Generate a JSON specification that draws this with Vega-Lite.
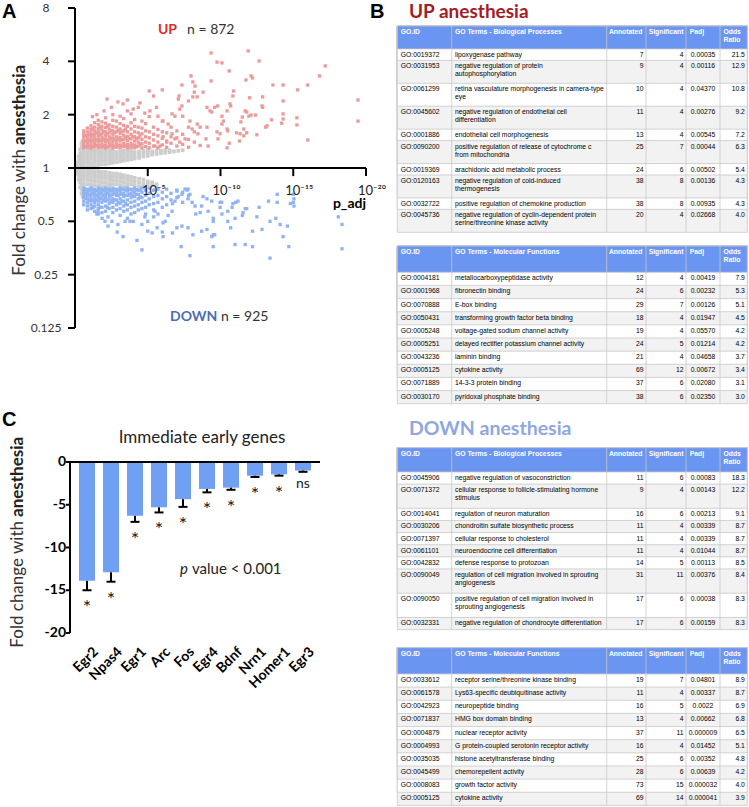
{
"$schema":"https://vega.github.io/schema/vega-lite/v6.json",
"width":749,"height":807,"autosize":{"type":"none"},"padding":0,
"config":{"view":{"stroke":null},"font":"Lato",
"style":{"t":{"font":"Liberation Sans","fontSize":6.8,"baseline":"top","dy":3,"fill":"#333333","lineHeight":8}}},
"resolve":{"scale":{"x":"independent","y":"independent"}},
"datasets":{
"aaxis":[
{"k":"y","p":0,"f":0.125},{"k":"y","p":0,"f":8},
{"k":"t1","p":-0.48,"f":0.125},{"k":"t1","p":0,"f":0.125},
{"k":"t2","p":-0.48,"f":0.25},{"k":"t2","p":0,"f":0.25},
{"k":"t3","p":-0.48,"f":0.5},{"k":"t3","p":0,"f":0.5},
{"k":"t4","p":-0.48,"f":1},{"k":"t4","p":0,"f":1},
{"k":"t5","p":-0.48,"f":2},{"k":"t5","p":0,"f":2},
{"k":"t6","p":-0.48,"f":4},{"k":"t6","p":0,"f":4},
{"k":"t7","p":-0.48,"f":8},{"k":"t7","p":0,"f":8},
{"k":"x1","p":5,"f":1},{"k":"x1","p":5,"f":0.9},
{"k":"x2","p":10,"f":1},{"k":"x2","p":10,"f":0.9},
{"k":"x3","p":15,"f":1},{"k":"x3","p":15,"f":0.9},
{"k":"x4","p":20,"f":1},{"k":"x4","p":20,"f":0.9}
],
"ayt":[{"v":0.125,"l":"0.125"},{"v":0.25,"l":"0.25"},{"v":0.5,"l":"0.5"},{"v":1,"l":"1"},{"v":2,"l":"2"},{"v":4,"l":"4"},{"v":8,"l":"8"}],
"axt":[{"v":5,"l":"10⁻⁵"},{"v":10,"l":"10⁻¹⁰"},{"v":15,"l":"10⁻¹⁵"},{"v":20,"l":"10⁻²⁰"}],
"cyt":[{"v":0,"l":"0"},{"v":-5,"l":"-5"},{"v":-10,"l":"-10"},{"v":-15,"l":"-15"},{"v":-20,"l":"-20"}],
"ns":[
{"p":0.05,"f":0.99},{"p":0.05,"f":1.01},{"p":0.15,"f":0.93},{"p":0.15,"f":0.97},{"p":0.15,"f":1.03},{"p":0.15,"f":1.07},{"p":0.25,"f":0.86},{"p":0.25,"f":0.91},{"p":0.25,"f":0.96},{"p":0.25,"f":1.04},{"p":0.25,"f":1.1},{"p":0.25,"f":1.16},{"p":0.35,"f":0.78},{"p":0.35,"f":0.83},{"p":0.35,"f":0.88},{"p":0.35,"f":0.94},{"p":0.35,"f":1.0},{"p":0.35,"f":1.06},{"p":0.35,"f":1.13},{"p":0.35,"f":1.2},{"p":0.35,"f":1.27},{"p":0.45,"f":0.72},{"p":0.45,"f":0.76},{"p":0.45,"f":0.81},{"p":0.45,"f":0.86},{"p":0.45,"f":0.92},{"p":0.45,"f":0.98},{"p":0.45,"f":1.04},{"p":0.45,"f":1.1},{"p":0.45,"f":1.17},{"p":0.45,"f":1.24},{"p":0.45,"f":1.31},{"p":0.45,"f":1.38},{"p":0.52,"f":0.69},{"p":0.52,"f":0.74},{"p":0.52,"f":1.34},{"p":0.52,"f":1.42},
{"p":0.6,"f":1.02},{"p":0.6,"f":1.07},{"p":0.6,"f":1.12},{"p":0.6,"f":1.17},{"p":0.6,"f":1.22},{"p":0.6,"f":1.26},
{"p":0.85,"f":1.01},{"p":0.85,"f":1.06},{"p":0.85,"f":1.11},{"p":0.85,"f":1.16},{"p":0.85,"f":1.21},{"p":0.85,"f":1.26},
{"p":1.1,"f":1.03},{"p":1.1,"f":1.08},{"p":1.1,"f":1.13},{"p":1.1,"f":1.18},{"p":1.1,"f":1.23},{"p":1.1,"f":1.27},
{"p":1.35,"f":1.02},{"p":1.35,"f":1.07},{"p":1.35,"f":1.12},{"p":1.35,"f":1.17},{"p":1.35,"f":1.22},{"p":1.35,"f":1.26},
{"p":1.6,"f":1.04},{"p":1.6,"f":1.09},{"p":1.6,"f":1.14},{"p":1.6,"f":1.19},{"p":1.6,"f":1.24},
{"p":1.85,"f":1.05},{"p":1.85,"f":1.1},{"p":1.85,"f":1.15},{"p":1.85,"f":1.2},{"p":1.85,"f":1.25},
{"p":2.1,"f":1.05},{"p":2.1,"f":1.1},{"p":2.1,"f":1.15},{"p":2.1,"f":1.2},{"p":2.1,"f":1.25},
{"p":2.35,"f":1.06},{"p":2.35,"f":1.11},{"p":2.35,"f":1.16},{"p":2.35,"f":1.21},{"p":2.35,"f":1.26},
{"p":2.6,"f":1.07},{"p":2.6,"f":1.12},{"p":2.6,"f":1.17},{"p":2.6,"f":1.22},{"p":2.6,"f":1.26},
{"p":2.85,"f":1.08},{"p":2.85,"f":1.13},{"p":2.85,"f":1.18},{"p":2.85,"f":1.23},
{"p":3.1,"f":1.09},{"p":3.1,"f":1.14},{"p":3.1,"f":1.19},{"p":3.1,"f":1.24},
{"p":3.35,"f":1.1},{"p":3.35,"f":1.15},{"p":3.35,"f":1.2},{"p":3.35,"f":1.25},
{"p":3.6,"f":1.11},{"p":3.6,"f":1.16},{"p":3.6,"f":1.21},{"p":3.6,"f":1.26},
{"p":3.85,"f":1.12},{"p":3.85,"f":1.17},{"p":3.85,"f":1.22},{"p":3.85,"f":1.26},
{"p":4.1,"f":1.13},{"p":4.1,"f":1.18},{"p":4.1,"f":1.23},
{"p":4.4,"f":1.14},{"p":4.4,"f":1.19},{"p":4.4,"f":1.24},
{"p":4.7,"f":1.16},{"p":4.7,"f":1.21},{"p":4.7,"f":1.25},
{"p":5.0,"f":1.17},{"p":5.0,"f":1.22},{"p":5.0,"f":1.26},
{"p":5.3,"f":1.19},{"p":5.3,"f":1.24},{"p":5.6,"f":1.2},{"p":5.6,"f":1.25},{"p":5.9,"f":1.21},{"p":5.9,"f":1.25},{"p":6.2,"f":1.22},{"p":6.2,"f":1.26},{"p":6.5,"f":1.23},{"p":6.5,"f":1.26},{"p":6.8,"f":1.24},{"p":7.1,"f":1.25},{"p":7.4,"f":1.26},
{"p":0.6,"f":0.98},{"p":0.6,"f":0.94},{"p":0.6,"f":0.9},{"p":0.6,"f":0.86},{"p":0.6,"f":0.82},{"p":0.6,"f":0.79},
{"p":0.85,"f":0.97},{"p":0.85,"f":0.93},{"p":0.85,"f":0.89},{"p":0.85,"f":0.85},{"p":0.85,"f":0.81},
{"p":1.1,"f":0.97},{"p":1.1,"f":0.93},{"p":1.1,"f":0.89},{"p":1.1,"f":0.85},{"p":1.1,"f":0.81},{"p":1.1,"f":0.79},
{"p":1.35,"f":0.96},{"p":1.35,"f":0.92},{"p":1.35,"f":0.88},{"p":1.35,"f":0.84},{"p":1.35,"f":0.8},
{"p":1.6,"f":0.96},{"p":1.6,"f":0.92},{"p":1.6,"f":0.88},{"p":1.6,"f":0.84},{"p":1.6,"f":0.8},
{"p":1.85,"f":0.95},{"p":1.85,"f":0.91},{"p":1.85,"f":0.87},{"p":1.85,"f":0.83},{"p":1.85,"f":0.79},
{"p":2.1,"f":0.95},{"p":2.1,"f":0.91},{"p":2.1,"f":0.87},{"p":2.1,"f":0.83},{"p":2.1,"f":0.79},
{"p":2.35,"f":0.94},{"p":2.35,"f":0.9},{"p":2.35,"f":0.86},{"p":2.35,"f":0.82},{"p":2.35,"f":0.79},
{"p":2.6,"f":0.93},{"p":2.6,"f":0.89},{"p":2.6,"f":0.85},{"p":2.6,"f":0.81},
{"p":2.85,"f":0.93},{"p":2.85,"f":0.89},{"p":2.85,"f":0.85},{"p":2.85,"f":0.81},
{"p":3.1,"f":0.92},{"p":3.1,"f":0.88},{"p":3.1,"f":0.84},{"p":3.1,"f":0.8},
{"p":3.35,"f":0.91},{"p":3.35,"f":0.87},{"p":3.35,"f":0.83},{"p":3.35,"f":0.79},
{"p":3.6,"f":0.9},{"p":3.6,"f":0.86},{"p":3.6,"f":0.82},{"p":3.6,"f":0.79},
{"p":3.85,"f":0.89},{"p":3.85,"f":0.85},{"p":3.85,"f":0.81},
{"p":4.1,"f":0.88},{"p":4.1,"f":0.84},{"p":4.1,"f":0.8},
{"p":4.4,"f":0.87},{"p":4.4,"f":0.83},{"p":4.4,"f":0.79},
{"p":4.7,"f":0.86},{"p":4.7,"f":0.82},{"p":4.7,"f":0.79},
{"p":5.0,"f":0.84},{"p":5.0,"f":0.81},{"p":5.3,"f":0.83},{"p":5.3,"f":0.8},{"p":5.6,"f":0.81},{"p":5.6,"f":0.79}
],
"up":[
{"p":0.6,"f":1.3},{"p":0.6,"f":1.34},{"p":0.6,"f":1.39},{"p":0.6,"f":1.44},{"p":0.6,"f":1.5},{"p":0.6,"f":1.56},{"p":0.6,"f":1.62},
{"p":0.72,"f":1.32},{"p":0.72,"f":1.42},{"p":0.72,"f":1.52},
{"p":0.85,"f":1.31},{"p":0.85,"f":1.36},{"p":0.85,"f":1.41},{"p":0.85,"f":1.47},{"p":0.85,"f":1.53},{"p":0.85,"f":1.6},{"p":0.85,"f":1.68},
{"p":0.97,"f":1.33},{"p":0.97,"f":1.43},{"p":0.97,"f":1.55},
{"p":1.1,"f":1.3},{"p":1.1,"f":1.35},{"p":1.1,"f":1.4},{"p":1.1,"f":1.45},{"p":1.1,"f":1.51},{"p":1.1,"f":1.58},{"p":1.1,"f":1.65},{"p":1.1,"f":1.73},
{"p":1.22,"f":1.32},{"p":1.22,"f":1.43},{"p":1.22,"f":1.53},{"p":1.22,"f":1.66},
{"p":1.35,"f":1.32},{"p":1.35,"f":1.37},{"p":1.35,"f":1.42},{"p":1.35,"f":1.48},{"p":1.35,"f":1.55},{"p":1.35,"f":1.62},{"p":1.35,"f":1.7},{"p":1.35,"f":1.8},
{"p":1.47,"f":1.34},{"p":1.47,"f":1.44},{"p":1.47,"f":1.58},
{"p":1.6,"f":1.3},{"p":1.6,"f":1.35},{"p":1.6,"f":1.41},{"p":1.6,"f":1.46},{"p":1.6,"f":1.52},{"p":1.6,"f":1.6},{"p":1.6,"f":1.67},{"p":1.6,"f":1.76},{"p":1.6,"f":1.86},
{"p":1.72,"f":1.33},{"p":1.72,"f":1.43},{"p":1.72,"f":1.55},{"p":1.72,"f":1.7},
{"p":1.85,"f":1.31},{"p":1.85,"f":1.36},{"p":1.85,"f":1.42},{"p":1.85,"f":1.49},{"p":1.85,"f":1.56},{"p":1.85,"f":1.64},{"p":1.85,"f":1.72},{"p":1.85,"f":1.82},
{"p":1.97,"f":1.33},{"p":1.97,"f":1.45},{"p":1.97,"f":1.6},
{"p":2.1,"f":1.3},{"p":2.1,"f":1.34},{"p":2.1,"f":1.4},{"p":2.1,"f":1.46},{"p":2.1,"f":1.53},{"p":2.1,"f":1.6},{"p":2.1,"f":1.69},{"p":2.1,"f":1.79},{"p":2.1,"f":1.92},
{"p":2.22,"f":1.32},{"p":2.22,"f":1.43},{"p":2.22,"f":1.56},{"p":2.22,"f":1.72},
{"p":2.35,"f":1.32},{"p":2.35,"f":1.38},{"p":2.35,"f":1.44},{"p":2.35,"f":1.5},{"p":2.35,"f":1.58},{"p":2.35,"f":1.66},{"p":2.35,"f":1.75},
{"p":2.47,"f":1.35},{"p":2.47,"f":1.47},{"p":2.47,"f":1.62},
{"p":2.6,"f":1.3},{"p":2.6,"f":1.35},{"p":2.6,"f":1.41},{"p":2.6,"f":1.48},{"p":2.6,"f":1.55},{"p":2.6,"f":1.63},{"p":2.6,"f":1.72},{"p":2.6,"f":1.86},{"p":2.6,"f":2.0},
{"p":2.72,"f":1.33},{"p":2.72,"f":1.45},{"p":2.72,"f":1.58},
{"p":2.85,"f":1.31},{"p":2.85,"f":1.37},{"p":2.85,"f":1.43},{"p":2.85,"f":1.5},{"p":2.85,"f":1.6},{"p":2.85,"f":1.7},{"p":2.85,"f":1.84},
{"p":2.97,"f":1.34},{"p":2.97,"f":1.46},{"p":2.97,"f":1.63},
{"p":3.1,"f":1.3},{"p":3.1,"f":1.35},{"p":3.1,"f":1.42},{"p":3.1,"f":1.49},{"p":3.1,"f":1.57},{"p":3.1,"f":1.66},{"p":3.1,"f":1.78},{"p":3.1,"f":1.96},
{"p":3.22,"f":1.33},{"p":3.22,"f":1.45},{"p":3.22,"f":1.6},
{"p":3.35,"f":1.32},{"p":3.35,"f":1.38},{"p":3.35,"f":1.45},{"p":3.35,"f":1.53},{"p":3.35,"f":1.62},{"p":3.35,"f":1.74},{"p":3.35,"f":1.9},
{"p":3.47,"f":1.34},{"p":3.47,"f":1.48},{"p":3.47,"f":1.66},
{"p":3.6,"f":1.3},{"p":3.6,"f":1.36},{"p":3.6,"f":1.43},{"p":3.6,"f":1.51},{"p":3.6,"f":1.6},{"p":3.6,"f":1.72},{"p":3.6,"f":2.1},
{"p":3.72,"f":1.33},{"p":3.72,"f":1.47},
{"p":3.85,"f":1.31},{"p":3.85,"f":1.38},{"p":3.85,"f":1.46},{"p":3.85,"f":1.55},{"p":3.85,"f":1.66},{"p":3.85,"f":1.8},{"p":3.85,"f":2.02},
{"p":3.97,"f":1.34},{"p":3.97,"f":1.5},
{"p":4.1,"f":1.3},{"p":4.1,"f":1.35},{"p":4.1,"f":1.42},{"p":4.1,"f":1.5},{"p":4.1,"f":1.6},{"p":4.1,"f":1.72},{"p":4.1,"f":1.88},
{"p":4.22,"f":1.32},{"p":4.22,"f":1.46},
{"p":4.35,"f":1.33},{"p":4.35,"f":1.4},{"p":4.35,"f":1.48},{"p":4.35,"f":1.58},{"p":4.35,"f":1.7},{"p":4.35,"f":2.2},
{"p":4.47,"f":1.36},{"p":4.47,"f":1.52},
{"p":4.6,"f":1.3},{"p":4.6,"f":1.37},{"p":4.6,"f":1.45},{"p":4.6,"f":1.56},{"p":4.6,"f":1.68},{"p":4.6,"f":1.84},
{"p":4.85,"f":1.32},{"p":4.85,"f":1.4},{"p":4.85,"f":1.5},{"p":4.85,"f":1.62},{"p":4.85,"f":1.78},
{"p":5.1,"f":1.3},{"p":5.1,"f":1.38},{"p":5.1,"f":1.48},{"p":5.1,"f":1.6},{"p":5.1,"f":1.95},
{"p":5.4,"f":1.33},{"p":5.4,"f":1.44},{"p":5.4,"f":1.55},{"p":5.4,"f":1.7},
{"p":5.7,"f":1.3},{"p":5.7,"f":1.4},{"p":5.7,"f":1.52},{"p":5.7,"f":1.65},
{"p":6.0,"f":1.35},{"p":6.0,"f":1.47},{"p":6.0,"f":1.6},{"p":6.0,"f":1.84},
{"p":6.3,"f":1.31},{"p":6.3,"f":1.42},{"p":6.3,"f":1.58},
{"p":6.6,"f":1.38},{"p":6.6,"f":1.5},{"p":6.6,"f":1.7},
{"p":7.0,"f":1.33},{"p":7.0,"f":1.48},{"p":7.0,"f":1.62},
{"p":7.4,"f":1.36},{"p":7.4,"f":1.55},{"p":7.8,"f":1.31},{"p":7.8,"f":1.45},{"p":8.2,"f":1.4},{"p":8.2,"f":1.6},{"p":8.6,"f":1.34},
{"p":9.35,"f":4.46},{"p":9.76,"f":3.96},{"p":10.1,"f":3.92},{"p":7.97,"f":3.31},{"p":7.35,"f":2.94},{"p":9.35,"f":3.1},{"p":8.1,"f":3.06},{"p":8.25,"f":2.9},{"p":6.0,"f":2.76},{"p":5.1,"f":2.72},{"p":5.4,"f":2.55},{"p":7.15,"f":2.55},{"p":7.1,"f":2.45},{"p":8.2,"f":2.68},{"p":7.8,"f":2.39},{"p":8.1,"f":2.52},{"p":8.4,"f":2.52},{"p":8.8,"f":2.68},{"p":3.6,"f":2.42},{"p":2.95,"f":2.36},{"p":3.3,"f":2.3},{"p":4.47,"f":2.33},{"p":5.15,"f":2.1},{"p":4.8,"f":2.04},{"p":5.6,"f":2.2},{"p":7.35,"f":2.24},{"p":7.2,"f":2.15},{"p":6.87,"f":1.96},{"p":6.67,"f":2.02},{"p":7.4,"f":1.96},{"p":9.07,"f":2.2},{"p":9.28,"f":2.1},{"p":9.4,"f":2.07},{"p":9.6,"f":2.2},{"p":9.8,"f":2.24},{"p":10.1,"f":1.96},{"p":10.2,"f":1.84},{"p":5.7,"f":1.96},{"p":6.05,"f":1.84},{"p":6.4,"f":1.77},{"p":7.9,"f":1.84},{"p":7.8,"f":1.7},{"p":8.05,"f":1.66},{"p":8.4,"f":1.77},{"p":8.6,"f":1.7},{"p":8.45,"f":1.56},{"p":9.07,"f":1.7},{"p":9.0,"f":1.46},{"p":9.15,"f":1.33},{"p":9.76,"f":1.6},{"p":9.83,"f":1.46},{"p":10.1,"f":1.77},{"p":6.67,"f":1.56},{"p":6.87,"f":1.46},{"p":7.2,"f":1.4},{"p":7.56,"f":1.46},{"p":6.05,"f":1.5},{"p":6.3,"f":1.4},{"p":5.84,"f":1.33},{"p":5.5,"f":1.33},{"p":2.0,"f":2.1},{"p":2.5,"f":2.2},{"p":1.5,"f":2.0},{"p":2.2,"f":2.45},{"p":4.0,"f":2.15},{"p":1.2,"f":1.95},
{"p":11.9,"f":4.58},{"p":12.65,"f":4.02},{"p":10.6,"f":3.53},{"p":17.2,"f":3.77},{"p":16.8,"f":3.31},{"p":12.1,"f":3.31},{"p":12.2,"f":3.22},{"p":11.75,"f":3.14},{"p":13.6,"f":2.94},{"p":16.0,"f":2.94},{"p":15.3,"f":2.76},{"p":10.9,"f":2.72},{"p":10.85,"f":2.55},{"p":12.0,"f":2.49},{"p":12.9,"f":2.52},{"p":14.3,"f":2.39},{"p":10.65,"f":2.3},{"p":10.7,"f":2.24},{"p":10.45,"f":2.1},{"p":19.45,"f":2.42},{"p":19.45,"f":1.84},{"p":11.7,"f":2.1},{"p":11.8,"f":2.07},{"p":12.1,"f":1.99},{"p":11.95,"f":1.96},{"p":12.4,"f":1.99},{"p":12.9,"f":2.2},{"p":11.5,"f":1.94},{"p":11.4,"f":1.82},{"p":13.5,"f":1.87},{"p":14.3,"f":1.89},{"p":14.2,"f":1.79},{"p":15.25,"f":1.92},{"p":15.25,"f":1.75},{"p":13.1,"f":1.7},{"p":10.45,"f":1.66},{"p":10.5,"f":1.62},{"p":9.97,"f":1.56},{"p":11.6,"f":1.66},{"p":11.35,"f":1.56},{"p":11.8,"f":1.58},{"p":11.1,"f":1.58},{"p":11.6,"f":1.52},{"p":12.5,"f":1.54},{"p":11.3,"f":1.42},{"p":10.6,"f":1.38},{"p":10.45,"f":1.3},{"p":16.0,"f":1.44},{"p":14.3,"f":2.94},{"p":14.3,"f":2.02},{"p":12.85,"f":2.24},{"p":13.2,"f":1.73}
],
"down":[
{"p":0.6,"f":0.77},{"p":0.6,"f":0.74},{"p":0.6,"f":0.71},{"p":0.6,"f":0.68},{"p":0.6,"f":0.65},{"p":0.6,"f":0.62},
{"p":0.72,"f":0.755},{"p":0.72,"f":0.715},{"p":0.72,"f":0.675},
{"p":0.85,"f":0.76},{"p":0.85,"f":0.73},{"p":0.85,"f":0.7},{"p":0.85,"f":0.67},{"p":0.85,"f":0.64},{"p":0.85,"f":0.61},{"p":0.85,"f":0.58},
{"p":0.97,"f":0.755},{"p":0.97,"f":0.705},{"p":0.97,"f":0.66},
{"p":1.1,"f":0.77},{"p":1.1,"f":0.74},{"p":1.1,"f":0.71},{"p":1.1,"f":0.68},{"p":1.1,"f":0.65},{"p":1.1,"f":0.62},{"p":1.1,"f":0.59},
{"p":1.22,"f":0.755},{"p":1.22,"f":0.715},{"p":1.22,"f":0.66},{"p":1.22,"f":0.6},
{"p":1.35,"f":0.76},{"p":1.35,"f":0.73},{"p":1.35,"f":0.7},{"p":1.35,"f":0.67},{"p":1.35,"f":0.64},{"p":1.35,"f":0.61},{"p":1.35,"f":0.57},
{"p":1.47,"f":0.745},{"p":1.47,"f":0.7},{"p":1.47,"f":0.66},
{"p":1.6,"f":0.77},{"p":1.6,"f":0.74},{"p":1.6,"f":0.71},{"p":1.6,"f":0.68},{"p":1.6,"f":0.65},{"p":1.6,"f":0.62},{"p":1.6,"f":0.59},{"p":1.6,"f":0.55},
{"p":1.72,"f":0.755},{"p":1.72,"f":0.72},{"p":1.72,"f":0.67},{"p":1.72,"f":0.6},
{"p":1.85,"f":0.76},{"p":1.85,"f":0.73},{"p":1.85,"f":0.7},{"p":1.85,"f":0.67},{"p":1.85,"f":0.64},{"p":1.85,"f":0.6},{"p":1.85,"f":0.56},
{"p":1.97,"f":0.75},{"p":1.97,"f":0.7},{"p":1.97,"f":0.66},
{"p":2.1,"f":0.77},{"p":2.1,"f":0.74},{"p":2.1,"f":0.71},{"p":2.1,"f":0.68},{"p":2.1,"f":0.65},{"p":2.1,"f":0.61},{"p":2.1,"f":0.57},
{"p":2.22,"f":0.755},{"p":2.22,"f":0.72},{"p":2.22,"f":0.66},{"p":2.22,"f":0.6},
{"p":2.35,"f":0.76},{"p":2.35,"f":0.73},{"p":2.35,"f":0.7},{"p":2.35,"f":0.67},{"p":2.35,"f":0.63},{"p":2.35,"f":0.59},
{"p":2.47,"f":0.75},{"p":2.47,"f":0.7},{"p":2.47,"f":0.65},
{"p":2.6,"f":0.77},{"p":2.6,"f":0.74},{"p":2.6,"f":0.71},{"p":2.6,"f":0.67},{"p":2.6,"f":0.64},{"p":2.6,"f":0.6},{"p":2.6,"f":0.56},
{"p":2.72,"f":0.755},{"p":2.72,"f":0.72},{"p":2.72,"f":0.66},
{"p":2.85,"f":0.76},{"p":2.85,"f":0.73},{"p":2.85,"f":0.7},{"p":2.85,"f":0.66},{"p":2.85,"f":0.62},{"p":2.85,"f":0.58},
{"p":2.97,"f":0.75},{"p":2.97,"f":0.7},{"p":2.97,"f":0.64},
{"p":3.1,"f":0.77},{"p":3.1,"f":0.74},{"p":3.1,"f":0.71},{"p":3.1,"f":0.67},{"p":3.1,"f":0.63},{"p":3.1,"f":0.59},{"p":3.1,"f":0.54},
{"p":3.22,"f":0.755},{"p":3.22,"f":0.715},{"p":3.22,"f":0.65},
{"p":3.35,"f":0.76},{"p":3.35,"f":0.72},{"p":3.35,"f":0.69},{"p":3.35,"f":0.65},{"p":3.35,"f":0.61},{"p":3.35,"f":0.57},
{"p":3.47,"f":0.75},{"p":3.47,"f":0.7},{"p":3.47,"f":0.63},
{"p":3.6,"f":0.77},{"p":3.6,"f":0.74},{"p":3.6,"f":0.7},{"p":3.6,"f":0.66},{"p":3.6,"f":0.62},{"p":3.6,"f":0.58},{"p":3.6,"f":0.52},
{"p":3.72,"f":0.755},{"p":3.72,"f":0.71},
{"p":3.85,"f":0.76},{"p":3.85,"f":0.72},{"p":3.85,"f":0.68},{"p":3.85,"f":0.64},{"p":3.85,"f":0.6},{"p":3.85,"f":0.55},
{"p":3.97,"f":0.75},{"p":3.97,"f":0.7},
{"p":4.1,"f":0.77},{"p":4.1,"f":0.73},{"p":4.1,"f":0.69},{"p":4.1,"f":0.65},{"p":4.1,"f":0.61},{"p":4.1,"f":0.56},
{"p":4.22,"f":0.755},{"p":4.22,"f":0.71},
{"p":4.35,"f":0.75},{"p":4.35,"f":0.71},{"p":4.35,"f":0.67},{"p":4.35,"f":0.62},{"p":4.35,"f":0.58},
{"p":4.47,"f":0.75},{"p":4.47,"f":0.69},
{"p":4.6,"f":0.77},{"p":4.6,"f":0.73},{"p":4.6,"f":0.68},{"p":4.6,"f":0.64},{"p":4.6,"f":0.59},
{"p":4.85,"f":0.75},{"p":4.85,"f":0.7},{"p":4.85,"f":0.65},{"p":4.85,"f":0.6},{"p":4.85,"f":0.55},
{"p":5.1,"f":0.77},{"p":5.1,"f":0.72},{"p":5.1,"f":0.67},{"p":5.1,"f":0.62},
{"p":5.4,"f":0.75},{"p":5.4,"f":0.69},{"p":5.4,"f":0.63},{"p":5.4,"f":0.58},
{"p":5.7,"f":0.76},{"p":5.7,"f":0.7},{"p":5.7,"f":0.64},
{"p":6.0,"f":0.73},{"p":6.0,"f":0.67},{"p":6.0,"f":0.6},
{"p":6.3,"f":0.76},{"p":6.3,"f":0.69},{"p":6.3,"f":0.62},
{"p":6.6,"f":0.72},{"p":6.6,"f":0.66},{"p":7.0,"f":0.75},{"p":7.0,"f":0.68},{"p":7.4,"f":0.73},{"p":7.4,"f":0.64},{"p":7.8,"f":0.7},
{"p":4.6,"f":0.345},{"p":7.9,"f":0.32},{"p":7.3,"f":0.36},{"p":9.5,"f":0.36},{"p":4.26,"f":0.39},{"p":3.3,"f":0.41},{"p":2.9,"f":0.435},{"p":2.27,"f":0.47},{"p":5.0,"f":0.44},{"p":5.3,"f":0.43},{"p":5.64,"f":0.46},{"p":6.0,"f":0.435},{"p":6.05,"f":0.41},{"p":6.7,"f":0.43},{"p":7.0,"f":0.46},{"p":7.35,"f":0.47},{"p":7.77,"f":0.46},{"p":8.1,"f":0.42},{"p":8.7,"f":0.44},{"p":9.07,"f":0.45},{"p":9.4,"f":0.41},{"p":9.6,"f":0.42},{"p":10.1,"f":0.55},{"p":9.97,"f":0.64},{"p":8.8,"f":0.69},{"p":8.7,"f":0.61},{"p":9.15,"f":0.57},{"p":9.4,"f":0.65},{"p":9.5,"f":0.5},{"p":7.9,"f":0.71},{"p":8.05,"f":0.64},{"p":8.25,"f":0.61},{"p":8.3,"f":0.55},{"p":7.77,"f":0.76},{"p":7.7,"f":0.75},{"p":7.35,"f":0.71},{"p":7.1,"f":0.69},{"p":6.87,"f":0.65},{"p":6.7,"f":0.63},{"p":6.67,"f":0.57},{"p":6.4,"f":0.54},{"p":6.2,"f":0.5},{"p":6.05,"f":0.49},{"p":2.95,"f":0.48},{"p":3.44,"f":0.5},{"p":3.78,"f":0.5},{"p":4.0,"f":0.5},{"p":4.6,"f":0.48},{"p":4.8,"f":0.53},{"p":5.0,"f":0.5},{"p":5.4,"f":0.53},{"p":5.7,"f":0.55},{"p":5.5,"f":0.57},{"p":1.5,"f":0.55},{"p":1.86,"f":0.52},{"p":2.06,"f":0.5},{"p":2.27,"f":0.53},{"p":2.54,"f":0.5},{"p":1.58,"f":0.57},{"p":1.24,"f":0.6},
{"p":13.4,"f":0.31},{"p":11.0,"f":0.37},{"p":11.7,"f":0.37},{"p":12.2,"f":0.36},{"p":14.7,"f":0.36},{"p":14.3,"f":0.41},{"p":18.35,"f":0.35},{"p":18.1,"f":0.53},{"p":18.35,"f":0.48},{"p":12.85,"f":0.45},{"p":13.4,"f":0.5},{"p":13.8,"f":0.52},{"p":14.1,"f":0.48},{"p":14.6,"f":0.47},{"p":12.5,"f":0.53},{"p":10.7,"f":0.46},{"p":10.5,"f":0.5},{"p":10.5,"f":0.57},{"p":10.8,"f":0.6},{"p":10.85,"f":0.63},{"p":11.2,"f":0.65},{"p":11.05,"f":0.64},{"p":11.5,"f":0.54},{"p":11.55,"f":0.56},{"p":11.7,"f":0.59},{"p":11.8,"f":0.59},{"p":12.65,"f":0.6},{"p":13.3,"f":0.65},{"p":13.9,"f":0.71},{"p":14.8,"f":0.63},{"p":15.05,"f":0.61},{"p":15.05,"f":0.67},{"p":15.0,"f":0.71},{"p":15.0,"f":0.64},{"p":13.9,"f":0.64},{"p":12.2,"f":0.44},{"p":11.0,"f":0.52},{"p":9.07,"f":0.67},{"p":8.6,"f":0.56},{"p":7.77,"f":0.67},{"p":7.56,"f":0.76},{"p":7.0,"f":0.74},{"p":9.5,"f":0.52},{"p":9.5,"f":0.42},{"p":10.08,"f":0.64},{"p":9.97,"f":0.6}
],
"genes":[
{"gene":"Egr2","fc":-13.9,"lo":-15.0,"sig":"*"},{"gene":"Npas4","fc":-12.9,"lo":-14.0,"sig":"*"},{"gene":"Egr1","fc":-6.3,"lo":-7.0,"sig":"*"},{"gene":"Arc","fc":-5.3,"lo":-5.9,"sig":"*"},{"gene":"Fos","fc":-4.35,"lo":-5.25,"sig":"*"},{"gene":"Egr4","fc":-3.15,"lo":-3.55,"sig":"*"},{"gene":"Bdnf","fc":-3.0,"lo":-3.25,"sig":"*"},{"gene":"Nrn1","fc":-1.6,"lo":-1.75,"sig":"*"},{"gene":"Homer1","fc":-1.45,"lo":-1.6,"sig":"*"},{"gene":"Egr3","fc":-1.0,"lo":-1.15,"sig":"ns"}
],
"go":[
{"t":"ubp","r":0,"lines":2,"term":"GO Terms - Biological Processes"},
{"t":"ubp","r":1,"lines":1,"id":"GO:0019372","term":"lipoxygenase pathway","ann":7,"sig":4,"padj":"0.00035","odds":21.5},
{"t":"ubp","r":2,"lines":2,"id":"GO:0031953","term":["negative regulation of protein","autophosphorylation"],"ann":9,"sig":4,"padj":"0.00116","odds":12.9},
{"t":"ubp","r":3,"lines":2,"id":"GO:0061299","term":["retina vasculature morphogenesis in camera-type","eye"],"ann":10,"sig":4,"padj":"0.04370","odds":10.8},
{"t":"ubp","r":4,"lines":2,"id":"GO:0045602","term":["negative regulation of endothelial cell","differentiation"],"ann":11,"sig":4,"padj":"0.00276","odds":9.2},
{"t":"ubp","r":5,"lines":1,"id":"GO:0001886","term":"endothelial cell morphogenesis","ann":13,"sig":4,"padj":"0.00545","odds":7.2},
{"t":"ubp","r":6,"lines":2,"id":"GO:0090200","term":["positive regulation of release of cytochrome c","from mitochondria"],"ann":25,"sig":7,"padj":"0.00044","odds":6.3},
{"t":"ubp","r":7,"lines":1,"id":"GO:0019369","term":"arachidonic acid metabolic process","ann":24,"sig":6,"padj":"0.00502","odds":5.4},
{"t":"ubp","r":8,"lines":2,"id":"GO:0120163","term":["negative regulation of cold-induced","thermogenesis"],"ann":38,"sig":8,"padj":"0.00136","odds":4.3},
{"t":"ubp","r":9,"lines":1,"id":"GO:0032722","term":"positive regulation of chemokine production","ann":38,"sig":8,"padj":"0.00935","odds":4.3},
{"t":"ubp","r":10,"lines":2,"id":"GO:0045736","term":["negative regulation of cyclin-dependent protein","serine/threonine kinase activity"],"ann":20,"sig":4,"padj":"0.02668","odds":4.0},
{"t":"umf","r":0,"lines":2,"term":"GO Terms - Molecular Functions"},
{"t":"umf","r":1,"lines":1,"id":"GO:0004181","term":"metallocarboxypeptidase activity","ann":12,"sig":4,"padj":"0.00419","odds":7.9},
{"t":"umf","r":2,"lines":1,"id":"GO:0001968","term":"fibronectin binding","ann":24,"sig":6,"padj":"0.00232","odds":5.3},
{"t":"umf","r":3,"lines":1,"id":"GO:0070888","term":"E-box binding","ann":29,"sig":7,"padj":"0.00126","odds":5.1},
{"t":"umf","r":4,"lines":1,"id":"GO:0050431","term":"transforming growth factor beta binding","ann":18,"sig":4,"padj":"0.01947","odds":4.5},
{"t":"umf","r":5,"lines":1,"id":"GO:0005248","term":"voltage-gated sodium channel activity","ann":19,"sig":4,"padj":"0.05570","odds":4.2},
{"t":"umf","r":6,"lines":1,"id":"GO:0005251","term":"delayed rectifier potassium channel activity","ann":24,"sig":5,"padj":"0.01214","odds":4.2},
{"t":"umf","r":7,"lines":1,"id":"GO:0043236","term":"laminin binding","ann":21,"sig":4,"padj":"0.04658","odds":3.7},
{"t":"umf","r":8,"lines":1,"id":"GO:0005125","term":"cytokine activity","ann":69,"sig":12,"padj":"0.00672","odds":3.4},
{"t":"umf","r":9,"lines":1,"id":"GO:0071889","term":"14-3-3 protein binding","ann":37,"sig":6,"padj":"0.02080","odds":3.1},
{"t":"umf","r":10,"lines":1,"id":"GO:0030170","term":"pyridoxal phosphate binding","ann":38,"sig":6,"padj":"0.02350","odds":3.0},
{"t":"dbp","r":0,"lines":2,"term":"GO Terms - Biological Processes"},
{"t":"dbp","r":1,"lines":1,"id":"GO:0045906","term":"negative regulation of vasoconstriction","ann":11,"sig":6,"padj":"0.00083","odds":18.3},
{"t":"dbp","r":2,"lines":2,"id":"GO:0071372","term":["cellular response to follicle-stimulating hormone","stimulus"],"ann":9,"sig":4,"padj":"0.00143","odds":12.2},
{"t":"dbp","r":3,"lines":1,"id":"GO:0014041","term":"regulation of neuron maturation","ann":16,"sig":6,"padj":"0.00213","odds":9.1},
{"t":"dbp","r":4,"lines":1,"id":"GO:0030206","term":"chondroitin sulfate biosynthetic process","ann":11,"sig":4,"padj":"0.00339","odds":8.7},
{"t":"dbp","r":5,"lines":1,"id":"GO:0071397","term":"cellular response to cholesterol","ann":11,"sig":4,"padj":"0.00339","odds":8.7},
{"t":"dbp","r":6,"lines":1,"id":"GO:0061101","term":"neuroendocrine cell differentiation","ann":11,"sig":4,"padj":"0.01044","odds":8.7},
{"t":"dbp","r":7,"lines":1,"id":"GO:0042832","term":"defense response to protozoan","ann":14,"sig":5,"padj":"0.00113","odds":8.5},
{"t":"dbp","r":8,"lines":2,"id":"GO:0090049","term":["regulation of cell migration involved in sprouting","angiogenesis"],"ann":31,"sig":11,"padj":"0.00376","odds":8.4},
{"t":"dbp","r":9,"lines":2,"id":"GO:0090050","term":["positive regulation of cell migration involved in","sprouting angiogenesis"],"ann":17,"sig":6,"padj":"0.00038","odds":8.3},
{"t":"dbp","r":10,"lines":1,"id":"GO:0032331","term":"negative regulation of chondrocyte differentiation","ann":17,"sig":6,"padj":"0.00159","odds":8.3},
{"t":"dmf","r":0,"lines":2,"term":"GO Terms - Molecular Functions"},
{"t":"dmf","r":1,"lines":1,"id":"GO:0033612","term":"receptor serine/threonine kinase binding","ann":19,"sig":7,"padj":"0.04801","odds":8.9},
{"t":"dmf","r":2,"lines":1,"id":"GO:0061578","term":"Lys63-specific deubiquitinase activity","ann":11,"sig":4,"padj":"0.00337","odds":8.7},
{"t":"dmf","r":3,"lines":1,"id":"GO:0042923","term":"neuropeptide binding","ann":16,"sig":5,"padj":"0.0022","odds":6.9},
{"t":"dmf","r":4,"lines":1,"id":"GO:0071837","term":"HMG box domain binding","ann":13,"sig":4,"padj":"0.00662","odds":6.8},
{"t":"dmf","r":5,"lines":1,"id":"GO:0004879","term":"nuclear receptor activity","ann":37,"sig":11,"padj":"0.000009","odds":6.5},
{"t":"dmf","r":6,"lines":1,"id":"GO:0004993","term":"G protein-coupled serotonin receptor activity","ann":16,"sig":4,"padj":"0.01452","odds":5.1},
{"t":"dmf","r":7,"lines":1,"id":"GO:0035035","term":"histone acetyltransferase binding","ann":25,"sig":6,"padj":"0.00352","odds":4.8},
{"t":"dmf","r":8,"lines":1,"id":"GO:0045499","term":"chemorepellent activity","ann":28,"sig":6,"padj":"0.00639","odds":4.2},
{"t":"dmf","r":9,"lines":1,"id":"GO:0008083","term":"growth factor activity","ann":73,"sig":15,"padj":"0.000032","odds":4.0},
{"t":"dmf","r":10,"lines":1,"id":"GO:0005125","term":"cytokine activity","ann":69,"sig":14,"padj":"0.000041","odds":3.9}
]
},
"layer":[
{"layer":[
{"data":{"name":"ns"},"mark":{"type":"square","size":14,"color":"#cdcdcd","opacity":1},
"encoding":{"x":{"field":"p","type":"quantitative","scale":{"domain":[0,20],"range":[75,366],"nice":false,"zero":false},"axis":null},
"y":{"field":"f","type":"quantitative","scale":{"type":"log","base":2,"domain":[0.125,8],"range":[328,8],"nice":false},"axis":null}}},
{"data":{"name":"up"},"mark":{"type":"square","size":11,"color":"#ec9b9b","opacity":1},"encoding":{"x":{"field":"p","type":"quantitative","axis":null},"y":{"field":"f","type":"quantitative","axis":null}}},
{"data":{"name":"down"},"mark":{"type":"square","size":11,"color":"#8fb3f3","opacity":1},"encoding":{"x":{"field":"p","type":"quantitative","axis":null},"y":{"field":"f","type":"quantitative","axis":null}}},
{"data":{"values":[{}]},"mark":{"type":"rule","strokeWidth":2,"color":"black"},"encoding":{"x":{"datum":0.001,"axis":null},"x2":{"datum":20},"y":{"datum":1,"axis":null}}},
{"data":{"name":"aaxis"},"mark":{"type":"line","strokeWidth":2,"color":"black","strokeCap":"butt"},"encoding":{"x":{"field":"p","type":"quantitative","axis":null},"y":{"field":"f","type":"quantitative","axis":null},"detail":{"field":"k","type":"nominal"}}},
{"data":{"name":"ayt"},"mark":{"type":"text","font":"Lato","fontSize":12,"color":"#333333","align":"center","baseline":"middle"},"encoding":{"x":{"datum":-1.99,"axis":null},"y":{"field":"v","type":"quantitative","axis":null},"text":{"field":"l"}}},
{"data":{"name":"axt"},"mark":{"type":"text","font":"Lato","fontSize":13,"color":"#222222","align":"center","baseline":"top","dx":6},"encoding":{"x":{"field":"v","type":"quantitative","axis":null},"y":{"datum":0.8,"axis":null},"text":{"field":"l"}}},
{"data":{"values":[{}]},"mark":{"type":"text","text":"p_adj","font":"Lato","fontSize":14,"fontWeight":"bold","color":"black","align":"right","baseline":"alphabetic"},"encoding":{"x":{"datum":20,"axis":null},"y":{"datum":0.595,"axis":null}}},
{"data":{"values":[{}]},"mark":{"type":"text","text":"UP","font":"Lato","fontSize":14,"fontWeight":"bold","color":"#e02a2a","align":"left","baseline":"alphabetic"},"encoding":{"x":{"datum":5.7,"axis":null},"y":{"datum":5.71,"axis":null}}},
{"data":{"values":[{}]},"mark":{"type":"text","text":"n = 872","font":"Lato","fontSize":14,"color":"#333333","align":"left","baseline":"alphabetic"},"encoding":{"x":{"datum":7.7,"axis":null},"y":{"datum":5.71,"axis":null}}},
{"data":{"values":[{}]},"mark":{"type":"text","text":"DOWN","font":"Lato","fontSize":14,"fontWeight":"bold","color":"#4a6db5","align":"left","baseline":"alphabetic"},"encoding":{"x":{"datum":6.53,"axis":null},"y":{"datum":0.137,"axis":null}}},
{"data":{"values":[{}]},"mark":{"type":"text","text":"n = 925","font":"Lato","fontSize":14,"color":"#333333","align":"left","baseline":"alphabetic"},"encoding":{"x":{"datum":10.03,"axis":null},"y":{"datum":0.137,"axis":null}}},
{"data":{"values":[{}]},"mark":{"type":"text","text":"A","font":"Liberation Sans","fontSize":20,"fontWeight":"bold","color":"black","align":"left","baseline":"alphabetic"},"encoding":{"x":{"datum":-5.02,"axis":null},"y":{"datum":7.0,"axis":null}}},
{"data":{"values":[{}]},"mark":{"type":"text","text":"Fold change with","font":"Lato","fontSize":17,"color":"#333333","angle":270,"align":"right","baseline":"middle"},"encoding":{"x":{"datum":-3.8,"axis":null},"y":{"datum":1.28,"axis":null}}},
{"data":{"values":[{}]},"mark":{"type":"text","text":"anesthesia","font":"Lato","fontSize":17,"fontWeight":"bold","color":"#222222","angle":270,"align":"left","baseline":"middle","dx":4},"encoding":{"x":{"datum":-3.8,"axis":null},"y":{"datum":1.28,"axis":null}}}
]},
{"layer":[
{"data":{"name":"genes"},"mark":{"type":"bar","color":"#6fa0f4"},"encoding":{
"x":{"field":"gene","type":"nominal","sort":null,"scale":{"domain":["Egr2","Npas4","Egr1","Arc","Fos","Egr4","Bdnf","Nrn1","Homer1","Egr3"],"range":[70,320],"paddingInner":0.333,"paddingOuter":0.375},"axis":null},
"y":{"field":"fc","type":"quantitative","scale":{"domain":[-20,0],"range":[633,462],"nice":false,"zero":false},"axis":null}}},
{"data":{"name":"genes"},"mark":{"type":"rule","strokeWidth":2,"color":"black"},"encoding":{"x":{"field":"gene","type":"nominal","axis":null},"y":{"field":"fc","type":"quantitative","axis":null},"y2":{"field":"lo"}}},
{"data":{"name":"genes"},"mark":{"type":"tick","thickness":2,"size":9,"color":"black","opacity":1},"encoding":{"x":{"field":"gene","type":"nominal","axis":null},"y":{"field":"lo","type":"quantitative","axis":null}}},
{"data":{"values":[{}]},"mark":{"type":"rule","strokeWidth":2,"color":"black","xOffset":-12,"x2Offset":9},"encoding":{"x":{"datum":"Egr2","axis":null,"bandPosition":0},"x2":{"datum":"Egr3","bandPosition":1},"y":{"datum":0,"axis":null}}},
{"data":{"values":[{}]},"mark":{"type":"rule","strokeWidth":2,"color":"black","xOffset":-9},"encoding":{"x":{"datum":"Egr2","axis":null,"bandPosition":0},"y":{"datum":0,"axis":null},"y2":{"datum":-20}}},
{"data":{"name":"cyt"},"mark":{"type":"rule","strokeWidth":2,"color":"black","xOffset":-13,"x2Offset":-9},"encoding":{"x":{"datum":"Egr2","axis":null,"bandPosition":0},"x2":{"datum":"Egr2","bandPosition":0},"y":{"field":"v","type":"quantitative","axis":null}}},
{"data":{"name":"cyt"},"mark":{"type":"text","font":"Lato","fontSize":14,"fontWeight":"bold","color":"black","align":"right","baseline":"middle","dx":-21},"encoding":{"x":{"datum":"Egr2","axis":null},"y":{"field":"v","type":"quantitative","axis":null},"text":{"field":"l"}}},
{"data":{"name":"genes"},"mark":{"type":"text","font":"Lato","fontSize":14,"fontWeight":"bold","color":"black","align":"right","baseline":"top","angle":315,"dx":3,"dy":3},"encoding":{"x":{"field":"gene","type":"nominal","axis":null},"y":{"datum":-21.4,"axis":null},"text":{"field":"gene"}}},
{"data":{"name":"genes"},"transform":[{"filter":"datum.sig=='*'"}],"mark":{"type":"text","font":"Lato","fontSize":20,"color":"#222222","baseline":"middle","align":"center","dy":18},"encoding":{"x":{"field":"gene","type":"nominal","axis":null},"y":{"field":"lo","type":"quantitative","axis":null},"text":{"field":"sig"}}},
{"data":{"name":"genes"},"transform":[{"filter":"datum.sig=='ns'"}],"mark":{"type":"text","font":"Lato","fontSize":14,"color":"#222222","baseline":"middle","align":"center","dy":12},"encoding":{"x":{"field":"gene","type":"nominal","axis":null},"y":{"field":"lo","type":"quantitative","axis":null},"text":{"field":"sig"}}},
{"data":{"values":[{}]},"mark":{"type":"text","text":"Immediate early genes","font":"Lato","fontSize":17,"color":"#222222","align":"center","baseline":"middle","dx":19},"encoding":{"x":{"datum":"Fos","axis":null},"y":{"datum":2.8,"axis":null}}},
{"data":{"values":[{}]},"mark":{"type":"text","text":"p","font":"Lato","fontSize":15,"fontStyle":"italic","color":"#222222","align":"left","baseline":"alphabetic","dx":-3},"encoding":{"x":{"datum":"Fos","axis":null},"y":{"datum":-13.1,"axis":null}}},
{"data":{"values":[{}]},"mark":{"type":"text","text":"value < 0.001","font":"Lato","fontSize":15,"color":"#222222","align":"left","baseline":"alphabetic","dx":9},"encoding":{"x":{"datum":"Fos","axis":null},"y":{"datum":-13.1,"axis":null}}},
{"data":{"values":[{}]},"mark":{"type":"text","text":"C","font":"Liberation Sans","fontSize":20,"fontWeight":"bold","color":"black","align":"left","baseline":"alphabetic","dx":-85},"encoding":{"x":{"datum":"Egr2","axis":null},"y":{"datum":4.21,"axis":null}}},
{"data":{"values":[{}]},"mark":{"type":"text","text":"Fold change with","font":"Lato","fontSize":17,"color":"#333333","angle":270,"align":"right","baseline":"middle","dy":-69},"encoding":{"x":{"datum":"Egr2","axis":null},"y":{"datum":-6.9,"axis":null}}},
{"data":{"values":[{}]},"mark":{"type":"text","text":"anesthesia","font":"Lato","fontSize":17,"fontWeight":"bold","color":"#222222","angle":270,"align":"left","baseline":"middle","dx":4,"dy":-69},"encoding":{"x":{"datum":"Egr2","axis":null},"y":{"datum":-6.9,"axis":null}}}
]},
{"data":{"name":"go"},
"transform":[{"filter":"datum.t=='ubp'"},{"window":[{"op":"sum","field":"lines","as":"end"}],"sort":[{"field":"r"}]},{"window":[{"op":"lag","field":"end","as":"top"}],"sort":[{"field":"r"}]}],
"encoding":{"y":{"field":"end","type":"quantitative","scale":{"domain":[0,18],"range":[26,232.3],"nice":false,"zero":false},"axis":null}},
"layer":[
{"mark":{"type":"rect","stroke":"#c8c8c8","strokeWidth":0.8},"encoding":{"x":{"datum":0,"scale":{"domain":[0,350],"range":[397.3,747.3],"nice":false,"zero":false},"axis":null},"x2":{"datum":350},"y2":{"datum":0},"order":{"field":"r","sort":"descending"},"color":{"condition":[{"test":"datum.r==0","value":"#6a95f1"},{"test":"datum.r%2==0","value":"#f2f2f2"}],"value":"#ffffff"}}},
{"transform":[{"filter":"datum.r==10"}],"mark":{"type":"rule","color":"#c8c8c8","strokeWidth":0.8},"encoding":{"x":{"datum":54.4,"axis":null},"y2":{"datum":0}}},
{"transform":[{"filter":"datum.r==10"}],"mark":{"type":"rule","color":"#c8c8c8","strokeWidth":0.8},"encoding":{"x":{"datum":209.4,"axis":null},"y2":{"datum":0}}},
{"transform":[{"filter":"datum.r==10"}],"mark":{"type":"rule","color":"#c8c8c8","strokeWidth":0.8},"encoding":{"x":{"datum":248.7,"axis":null},"y2":{"datum":0}}},
{"transform":[{"filter":"datum.r==10"}],"mark":{"type":"rule","color":"#c8c8c8","strokeWidth":0.8},"encoding":{"x":{"datum":288.7,"axis":null},"y2":{"datum":0}}},
{"transform":[{"filter":"datum.r==10"}],"mark":{"type":"rule","color":"#c8c8c8","strokeWidth":0.8},"encoding":{"x":{"datum":322.7,"axis":null},"y2":{"datum":0}}},
{"transform":[{"filter":"datum.r>0"}],"mark":{"type":"text","style":"t","align":"left"},"encoding":{"x":{"datum":3.4,"axis":null},"y":{"field":"top","type":"quantitative","axis":null},"text":{"field":"id"}}},
{"transform":[{"filter":"datum.r>0"}],"mark":{"type":"text","style":"t","align":"left"},"encoding":{"x":{"datum":57.7,"axis":null},"y":{"field":"top","type":"quantitative","axis":null},"text":{"field":"term"}}},
{"transform":[{"filter":"datum.r>0"}],"mark":{"type":"text","style":"t","align":"right"},"encoding":{"x":{"datum":246.2,"axis":null},"y":{"field":"top","type":"quantitative","axis":null},"text":{"field":"ann"}}},
{"transform":[{"filter":"datum.r>0"}],"mark":{"type":"text","style":"t","align":"right"},"encoding":{"x":{"datum":286.2,"axis":null},"y":{"field":"top","type":"quantitative","axis":null},"text":{"field":"sig"}}},
{"transform":[{"filter":"datum.r>0"}],"mark":{"type":"text","style":"t","align":"center"},"encoding":{"x":{"datum":305.7,"axis":null},"y":{"field":"top","type":"quantitative","axis":null},"text":{"field":"padj"}}},
{"transform":[{"filter":"datum.r>0"}],"mark":{"type":"text","style":"t","align":"right"},"encoding":{"x":{"datum":347.6,"axis":null},"y":{"field":"top","type":"quantitative","axis":null},"text":{"field":"odds","type":"quantitative","format":".1f"}}},
{"transform":[{"filter":"datum.r==0"}],"mark":{"type":"text","style":"t","align":"left","fill":"white","fontWeight":"bold","text":"GO.ID"},"encoding":{"x":{"datum":3.4,"axis":null},"y":{"datum":0,"axis":null}}},
{"transform":[{"filter":"datum.r==0"}],"mark":{"type":"text","style":"t","align":"left","fill":"white","fontWeight":"bold"},"encoding":{"x":{"datum":57.7,"axis":null},"y":{"datum":0,"axis":null},"text":{"field":"term"}}},
{"transform":[{"filter":"datum.r==0"}],"mark":{"type":"text","style":"t","align":"left","fill":"white","fontWeight":"bold","text":"Annotated"},"encoding":{"x":{"datum":211.6,"axis":null},"y":{"datum":0,"axis":null}}},
{"transform":[{"filter":"datum.r==0"}],"mark":{"type":"text","style":"t","align":"left","fill":"white","fontWeight":"bold","text":"Significant"},"encoding":{"x":{"datum":251.4,"axis":null},"y":{"datum":0,"axis":null}}},
{"transform":[{"filter":"datum.r==0"}],"mark":{"type":"text","style":"t","align":"left","fill":"white","fontWeight":"bold","text":"Padj"},"encoding":{"x":{"datum":292.4,"axis":null},"y":{"datum":0,"axis":null}}},
{"transform":[{"filter":"datum.r==0"}],"mark":{"type":"text","style":"t","align":"left","fill":"white","fontWeight":"bold","text":["Odds","Ratio"]},"encoding":{"x":{"datum":326.2,"axis":null},"y":{"datum":0,"axis":null}}},
{"transform":[{"filter":"datum.r==0"}],"mark":{"type":"text","text":"B","font":"Liberation Sans","fontSize":20,"fontWeight":"bold","fill":"black","align":"left","baseline":"alphabetic"},"encoding":{"x":{"datum":-27.3,"axis":null},"y":{"datum":-0.68,"axis":null}}},
{"transform":[{"filter":"datum.r==0"}],"mark":{"type":"text","text":"UP anesthesia","font":"Lato","fontSize":19,"fontWeight":"bold","fill":"#a51c24","align":"left","baseline":"alphabetic"},"encoding":{"x":{"datum":11.7,"axis":null},"y":{"datum":-0.68,"axis":null}}}
]},
{"data":{"name":"go"},
"transform":[{"filter":"datum.t=='umf'"},{"window":[{"op":"sum","field":"lines","as":"end"}],"sort":[{"field":"r"}]},{"window":[{"op":"lag","field":"end","as":"top"}],"sort":[{"field":"r"}]}],
"encoding":{"y":{"field":"end","type":"quantitative","scale":{"domain":[0,12],"range":[246,403.7],"nice":false,"zero":false},"axis":null}},
"layer":[
{"mark":{"type":"rect","stroke":"#c8c8c8","strokeWidth":0.8},"encoding":{"x":{"datum":0,"scale":{"domain":[0,350],"range":[397.3,747.3],"nice":false,"zero":false},"axis":null},"x2":{"datum":350},"y2":{"datum":0},"order":{"field":"r","sort":"descending"},"color":{"condition":[{"test":"datum.r==0","value":"#6a95f1"},{"test":"datum.r%2==0","value":"#f2f2f2"}],"value":"#ffffff"}}},
{"transform":[{"filter":"datum.r==10"}],"mark":{"type":"rule","color":"#c8c8c8","strokeWidth":0.8},"encoding":{"x":{"datum":54.4,"axis":null},"y2":{"datum":0}}},
{"transform":[{"filter":"datum.r==10"}],"mark":{"type":"rule","color":"#c8c8c8","strokeWidth":0.8},"encoding":{"x":{"datum":209.4,"axis":null},"y2":{"datum":0}}},
{"transform":[{"filter":"datum.r==10"}],"mark":{"type":"rule","color":"#c8c8c8","strokeWidth":0.8},"encoding":{"x":{"datum":248.7,"axis":null},"y2":{"datum":0}}},
{"transform":[{"filter":"datum.r==10"}],"mark":{"type":"rule","color":"#c8c8c8","strokeWidth":0.8},"encoding":{"x":{"datum":288.7,"axis":null},"y2":{"datum":0}}},
{"transform":[{"filter":"datum.r==10"}],"mark":{"type":"rule","color":"#c8c8c8","strokeWidth":0.8},"encoding":{"x":{"datum":322.7,"axis":null},"y2":{"datum":0}}},
{"transform":[{"filter":"datum.r>0"}],"mark":{"type":"text","style":"t","align":"left"},"encoding":{"x":{"datum":3.4,"axis":null},"y":{"field":"top","type":"quantitative","axis":null},"text":{"field":"id"}}},
{"transform":[{"filter":"datum.r>0"}],"mark":{"type":"text","style":"t","align":"left"},"encoding":{"x":{"datum":57.7,"axis":null},"y":{"field":"top","type":"quantitative","axis":null},"text":{"field":"term"}}},
{"transform":[{"filter":"datum.r>0"}],"mark":{"type":"text","style":"t","align":"right"},"encoding":{"x":{"datum":246.2,"axis":null},"y":{"field":"top","type":"quantitative","axis":null},"text":{"field":"ann"}}},
{"transform":[{"filter":"datum.r>0"}],"mark":{"type":"text","style":"t","align":"right"},"encoding":{"x":{"datum":286.2,"axis":null},"y":{"field":"top","type":"quantitative","axis":null},"text":{"field":"sig"}}},
{"transform":[{"filter":"datum.r>0"}],"mark":{"type":"text","style":"t","align":"center"},"encoding":{"x":{"datum":305.7,"axis":null},"y":{"field":"top","type":"quantitative","axis":null},"text":{"field":"padj"}}},
{"transform":[{"filter":"datum.r>0"}],"mark":{"type":"text","style":"t","align":"right"},"encoding":{"x":{"datum":347.6,"axis":null},"y":{"field":"top","type":"quantitative","axis":null},"text":{"field":"odds","type":"quantitative","format":".1f"}}},
{"transform":[{"filter":"datum.r==0"}],"mark":{"type":"text","style":"t","align":"left","fill":"white","fontWeight":"bold","text":"GO.ID"},"encoding":{"x":{"datum":3.4,"axis":null},"y":{"datum":0,"axis":null}}},
{"transform":[{"filter":"datum.r==0"}],"mark":{"type":"text","style":"t","align":"left","fill":"white","fontWeight":"bold"},"encoding":{"x":{"datum":57.7,"axis":null},"y":{"datum":0,"axis":null},"text":{"field":"term"}}},
{"transform":[{"filter":"datum.r==0"}],"mark":{"type":"text","style":"t","align":"left","fill":"white","fontWeight":"bold","text":"Annotated"},"encoding":{"x":{"datum":211.6,"axis":null},"y":{"datum":0,"axis":null}}},
{"transform":[{"filter":"datum.r==0"}],"mark":{"type":"text","style":"t","align":"left","fill":"white","fontWeight":"bold","text":"Significant"},"encoding":{"x":{"datum":251.4,"axis":null},"y":{"datum":0,"axis":null}}},
{"transform":[{"filter":"datum.r==0"}],"mark":{"type":"text","style":"t","align":"left","fill":"white","fontWeight":"bold","text":"Padj"},"encoding":{"x":{"datum":292.4,"axis":null},"y":{"datum":0,"axis":null}}},
{"transform":[{"filter":"datum.r==0"}],"mark":{"type":"text","style":"t","align":"left","fill":"white","fontWeight":"bold","text":["Odds","Ratio"]},"encoding":{"x":{"datum":326.2,"axis":null},"y":{"datum":0,"axis":null}}}
]},
{"data":{"name":"go"},
"transform":[{"filter":"datum.t=='dbp'"},{"window":[{"op":"sum","field":"lines","as":"end"}],"sort":[{"field":"r"}]},{"window":[{"op":"lag","field":"end","as":"top"}],"sort":[{"field":"r"}]}],
"encoding":{"y":{"field":"end","type":"quantitative","scale":{"domain":[0,15],"range":[447.7,629.6],"nice":false,"zero":false},"axis":null}},
"layer":[
{"mark":{"type":"rect","stroke":"#c8c8c8","strokeWidth":0.8},"encoding":{"x":{"datum":0,"scale":{"domain":[0,350],"range":[397.3,747.3],"nice":false,"zero":false},"axis":null},"x2":{"datum":350},"y2":{"datum":0},"order":{"field":"r","sort":"descending"},"color":{"condition":[{"test":"datum.r==0","value":"#6a95f1"},{"test":"datum.r%2==0","value":"#f2f2f2"}],"value":"#ffffff"}}},
{"transform":[{"filter":"datum.r==10"}],"mark":{"type":"rule","color":"#c8c8c8","strokeWidth":0.8},"encoding":{"x":{"datum":54.4,"axis":null},"y2":{"datum":0}}},
{"transform":[{"filter":"datum.r==10"}],"mark":{"type":"rule","color":"#c8c8c8","strokeWidth":0.8},"encoding":{"x":{"datum":209.4,"axis":null},"y2":{"datum":0}}},
{"transform":[{"filter":"datum.r==10"}],"mark":{"type":"rule","color":"#c8c8c8","strokeWidth":0.8},"encoding":{"x":{"datum":248.7,"axis":null},"y2":{"datum":0}}},
{"transform":[{"filter":"datum.r==10"}],"mark":{"type":"rule","color":"#c8c8c8","strokeWidth":0.8},"encoding":{"x":{"datum":288.7,"axis":null},"y2":{"datum":0}}},
{"transform":[{"filter":"datum.r==10"}],"mark":{"type":"rule","color":"#c8c8c8","strokeWidth":0.8},"encoding":{"x":{"datum":322.7,"axis":null},"y2":{"datum":0}}},
{"transform":[{"filter":"datum.r>0"}],"mark":{"type":"text","style":"t","align":"left"},"encoding":{"x":{"datum":3.4,"axis":null},"y":{"field":"top","type":"quantitative","axis":null},"text":{"field":"id"}}},
{"transform":[{"filter":"datum.r>0"}],"mark":{"type":"text","style":"t","align":"left"},"encoding":{"x":{"datum":57.7,"axis":null},"y":{"field":"top","type":"quantitative","axis":null},"text":{"field":"term"}}},
{"transform":[{"filter":"datum.r>0"}],"mark":{"type":"text","style":"t","align":"right"},"encoding":{"x":{"datum":246.2,"axis":null},"y":{"field":"top","type":"quantitative","axis":null},"text":{"field":"ann"}}},
{"transform":[{"filter":"datum.r>0"}],"mark":{"type":"text","style":"t","align":"right"},"encoding":{"x":{"datum":286.2,"axis":null},"y":{"field":"top","type":"quantitative","axis":null},"text":{"field":"sig"}}},
{"transform":[{"filter":"datum.r>0"}],"mark":{"type":"text","style":"t","align":"center"},"encoding":{"x":{"datum":305.7,"axis":null},"y":{"field":"top","type":"quantitative","axis":null},"text":{"field":"padj"}}},
{"transform":[{"filter":"datum.r>0"}],"mark":{"type":"text","style":"t","align":"right"},"encoding":{"x":{"datum":347.6,"axis":null},"y":{"field":"top","type":"quantitative","axis":null},"text":{"field":"odds","type":"quantitative","format":".1f"}}},
{"transform":[{"filter":"datum.r==0"}],"mark":{"type":"text","style":"t","align":"left","fill":"white","fontWeight":"bold","text":"GO.ID"},"encoding":{"x":{"datum":3.4,"axis":null},"y":{"datum":0,"axis":null}}},
{"transform":[{"filter":"datum.r==0"}],"mark":{"type":"text","style":"t","align":"left","fill":"white","fontWeight":"bold"},"encoding":{"x":{"datum":57.7,"axis":null},"y":{"datum":0,"axis":null},"text":{"field":"term"}}},
{"transform":[{"filter":"datum.r==0"}],"mark":{"type":"text","style":"t","align":"left","fill":"white","fontWeight":"bold","text":"Annotated"},"encoding":{"x":{"datum":211.6,"axis":null},"y":{"datum":0,"axis":null}}},
{"transform":[{"filter":"datum.r==0"}],"mark":{"type":"text","style":"t","align":"left","fill":"white","fontWeight":"bold","text":"Significant"},"encoding":{"x":{"datum":251.4,"axis":null},"y":{"datum":0,"axis":null}}},
{"transform":[{"filter":"datum.r==0"}],"mark":{"type":"text","style":"t","align":"left","fill":"white","fontWeight":"bold","text":"Padj"},"encoding":{"x":{"datum":292.4,"axis":null},"y":{"datum":0,"axis":null}}},
{"transform":[{"filter":"datum.r==0"}],"mark":{"type":"text","style":"t","align":"left","fill":"white","fontWeight":"bold","text":["Odds","Ratio"]},"encoding":{"x":{"datum":326.2,"axis":null},"y":{"datum":0,"axis":null}}},
{"transform":[{"filter":"datum.r==0"}],"mark":{"type":"text","text":"DOWN anesthesia","font":"Lato","fontSize":19.5,"fontWeight":"bold","fill":"#8ea8de","align":"left","baseline":"alphabetic"},"encoding":{"x":{"datum":11.7,"axis":null},"y":{"datum":-1.05,"axis":null}}}
]},
{"data":{"name":"go"},
"transform":[{"filter":"datum.t=='dmf'"},{"window":[{"op":"sum","field":"lines","as":"end"}],"sort":[{"field":"r"}]},{"window":[{"op":"lag","field":"end","as":"top"}],"sort":[{"field":"r"}]}],
"encoding":{"y":{"field":"end","type":"quantitative","scale":{"domain":[0,12],"range":[647.7,805.4],"nice":false,"zero":false},"axis":null}},
"layer":[
{"mark":{"type":"rect","stroke":"#c8c8c8","strokeWidth":0.8},"encoding":{"x":{"datum":0,"scale":{"domain":[0,350],"range":[397.3,747.3],"nice":false,"zero":false},"axis":null},"x2":{"datum":350},"y2":{"datum":0},"order":{"field":"r","sort":"descending"},"color":{"condition":[{"test":"datum.r==0","value":"#6a95f1"},{"test":"datum.r%2==0","value":"#f2f2f2"}],"value":"#ffffff"}}},
{"transform":[{"filter":"datum.r==10"}],"mark":{"type":"rule","color":"#c8c8c8","strokeWidth":0.8},"encoding":{"x":{"datum":54.4,"axis":null},"y2":{"datum":0}}},
{"transform":[{"filter":"datum.r==10"}],"mark":{"type":"rule","color":"#c8c8c8","strokeWidth":0.8},"encoding":{"x":{"datum":209.4,"axis":null},"y2":{"datum":0}}},
{"transform":[{"filter":"datum.r==10"}],"mark":{"type":"rule","color":"#c8c8c8","strokeWidth":0.8},"encoding":{"x":{"datum":248.7,"axis":null},"y2":{"datum":0}}},
{"transform":[{"filter":"datum.r==10"}],"mark":{"type":"rule","color":"#c8c8c8","strokeWidth":0.8},"encoding":{"x":{"datum":288.7,"axis":null},"y2":{"datum":0}}},
{"transform":[{"filter":"datum.r==10"}],"mark":{"type":"rule","color":"#c8c8c8","strokeWidth":0.8},"encoding":{"x":{"datum":322.7,"axis":null},"y2":{"datum":0}}},
{"transform":[{"filter":"datum.r>0"}],"mark":{"type":"text","style":"t","align":"left"},"encoding":{"x":{"datum":3.4,"axis":null},"y":{"field":"top","type":"quantitative","axis":null},"text":{"field":"id"}}},
{"transform":[{"filter":"datum.r>0"}],"mark":{"type":"text","style":"t","align":"left"},"encoding":{"x":{"datum":57.7,"axis":null},"y":{"field":"top","type":"quantitative","axis":null},"text":{"field":"term"}}},
{"transform":[{"filter":"datum.r>0"}],"mark":{"type":"text","style":"t","align":"right"},"encoding":{"x":{"datum":246.2,"axis":null},"y":{"field":"top","type":"quantitative","axis":null},"text":{"field":"ann"}}},
{"transform":[{"filter":"datum.r>0"}],"mark":{"type":"text","style":"t","align":"right"},"encoding":{"x":{"datum":286.2,"axis":null},"y":{"field":"top","type":"quantitative","axis":null},"text":{"field":"sig"}}},
{"transform":[{"filter":"datum.r>0"}],"mark":{"type":"text","style":"t","align":"center"},"encoding":{"x":{"datum":305.7,"axis":null},"y":{"field":"top","type":"quantitative","axis":null},"text":{"field":"padj"}}},
{"transform":[{"filter":"datum.r>0"}],"mark":{"type":"text","style":"t","align":"right"},"encoding":{"x":{"datum":347.6,"axis":null},"y":{"field":"top","type":"quantitative","axis":null},"text":{"field":"odds","type":"quantitative","format":".1f"}}},
{"transform":[{"filter":"datum.r==0"}],"mark":{"type":"text","style":"t","align":"left","fill":"white","fontWeight":"bold","text":"GO.ID"},"encoding":{"x":{"datum":3.4,"axis":null},"y":{"datum":0,"axis":null}}},
{"transform":[{"filter":"datum.r==0"}],"mark":{"type":"text","style":"t","align":"left","fill":"white","fontWeight":"bold"},"encoding":{"x":{"datum":57.7,"axis":null},"y":{"datum":0,"axis":null},"text":{"field":"term"}}},
{"transform":[{"filter":"datum.r==0"}],"mark":{"type":"text","style":"t","align":"left","fill":"white","fontWeight":"bold","text":"Annotated"},"encoding":{"x":{"datum":211.6,"axis":null},"y":{"datum":0,"axis":null}}},
{"transform":[{"filter":"datum.r==0"}],"mark":{"type":"text","style":"t","align":"left","fill":"white","fontWeight":"bold","text":"Significant"},"encoding":{"x":{"datum":251.4,"axis":null},"y":{"datum":0,"axis":null}}},
{"transform":[{"filter":"datum.r==0"}],"mark":{"type":"text","style":"t","align":"left","fill":"white","fontWeight":"bold","text":"Padj"},"encoding":{"x":{"datum":292.4,"axis":null},"y":{"datum":0,"axis":null}}},
{"transform":[{"filter":"datum.r==0"}],"mark":{"type":"text","style":"t","align":"left","fill":"white","fontWeight":"bold","text":["Odds","Ratio"]},"encoding":{"x":{"datum":326.2,"axis":null},"y":{"datum":0,"axis":null}}}
]},
{"data":{"values":[{}]},"mark":{"type":"rule","strokeWidth":2,"color":"black"},"encoding":{"x":{"datum":1,"scale":{"domain":[1,21],"range":[75,366]},"axis":null},"y":{"datum":1,"scale":{"domain":[1,2],"range":[328,8]},"axis":null},"y2":{"datum":2}}},
{"data":{"values":[{}]},"mark":{"type":"rule","strokeWidth":2,"color":"black"},"encoding":{"x":{"datum":1,"scale":{"domain":[1,2],"range":[70,320]},"axis":null},"y":{"datum":1,"scale":{"domain":[1,2],"range":[633,462]},"axis":null},"y2":{"datum":2}}}
]
}
